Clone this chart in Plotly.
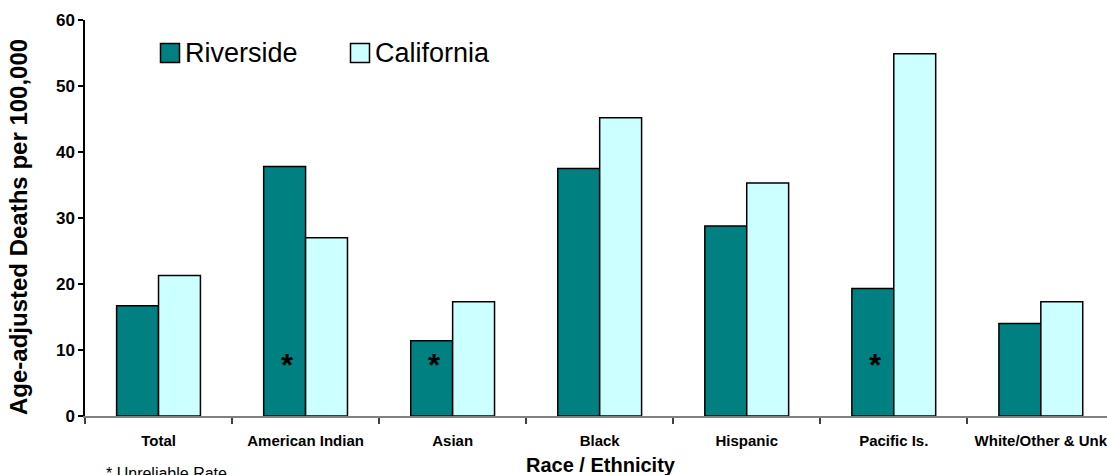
import plotly.graph_objects as go

# Age-adjusted death rates per 100,000 by race / ethnicity
categories = ["Total", "American Indian", "Asian", "Black", "Hispanic",
              "Pacific Is.", "White/Other & Unk"]
riverside = [16.7, 37.8, 11.4, 37.5, 28.8, 19.3, 14.0]
california = [21.3, 27.0, 17.3, 45.2, 35.3, 54.9, 17.3]
unreliable = ["American Indian", "Asian", "Pacific Is."]  # flagged Riverside rates
y_ticks = [0, 10, 20, 30, 40, 50, 60]

series_names = ["Riverside", "California"]
series_colors = ["#008080", "#CCFFFF"]

FONT = "Liberation Sans, Arial, sans-serif"

fig = go.Figure()
for name, vals, color in zip(series_names, [riverside, california], series_colors):
    fig.add_trace(go.Bar(
        x=categories, y=vals, name=name,
        marker=dict(color=color, line=dict(color="#000000", width=1.5)),
        showlegend=False,
    ))

# asterisks marking unreliable Riverside rates
for cat in unreliable:
    fig.add_annotation(
        x=cat, y=7.6, xref="x", yref="y", text="<b>*</b>", showarrow=False,
        xshift=-18, font=dict(family=FONT, size=31, color="#000000"),
    )

# legend drawn as boxes + labels in plot-area coordinates
W, H = 1022.0, 396.0  # plot area size in px (left edge 85, top 20)
def px_x(p):
    return (p - 85) / W
def px_y(p):
    return (416 - p) / H

legend_items = [(160.5, 183, "Riverside"), (350.5, 373, "California")]
for (bx, tx, label), color in zip(legend_items, series_colors):
    fig.add_shape(type="rect", xref="paper", yref="paper",
                  x0=px_x(bx), x1=px_x(bx + 19), y0=px_y(62.5), y1=px_y(43.5),
                  fillcolor=color, line=dict(color="#000000", width=1.5))
    fig.add_annotation(x=px_x(tx), y=px_y(53), xref="paper", yref="paper",
                       text=label, showarrow=False, xanchor="left", yanchor="middle",
                       font=dict(family=FONT, size=27, color="#000000"))

# axis titles and footnote
fig.add_annotation(x=px_x(18), y=px_y(227), xref="paper", yref="paper",
                   text="<b>Age-adjusted Deaths per 100,000</b>", textangle=-90,
                   showarrow=False, xanchor="center", yanchor="middle",
                   font=dict(family=FONT, size=24, color="#000000"))
fig.add_annotation(x=px_x(601), y=px_y(465), xref="paper", yref="paper",
                   text="<b>Race / Ethnicity</b>", showarrow=False,
                   xanchor="center", yanchor="middle",
                   font=dict(family=FONT, size=20, color="#000000"))
fig.add_annotation(x=px_x(104), y=px_y(463), xref="paper", yref="paper",
                   text="* Unreliable Rate", showarrow=False,
                   xanchor="left", yanchor="top",
                   font=dict(family=FONT, size=16, color="#000000"))

fig.update_layout(
    width=1107, height=475,
    margin=dict(l=85, r=0, t=20, b=59, pad=0),
    paper_bgcolor="#FFFFFF", plot_bgcolor="#FFFFFF",
    barmode="group", bargap=0.43, bargroupgap=0,
    template="none",
    xaxis=dict(
        type="category", range=[-0.5, 6.45], automargin=False,
        showline=True, linecolor="#808080", linewidth=1.5,
        ticks="outside", tickson="boundaries", ticklen=6, tickcolor="#404040",
        tickwidth=1.5, showgrid=False, zeroline=False, tickangle=0,
        ticklabelstandoff=10,
        tickfont=dict(family=FONT, size=15, color="#000000", weight="bold"),
    ),
    yaxis=dict(
        range=[0, 60], tickvals=y_ticks, automargin=False,
        showline=True, linecolor="#000000", linewidth=1.5,
        ticks="outside", ticklen=5, tickcolor="#000000", tickwidth=1.5,
        showgrid=False, zeroline=False,
        tickfont=dict(family=FONT, size=17, color="#000000", weight="bold"),
    ),
)

fig.write_html("out.html")
